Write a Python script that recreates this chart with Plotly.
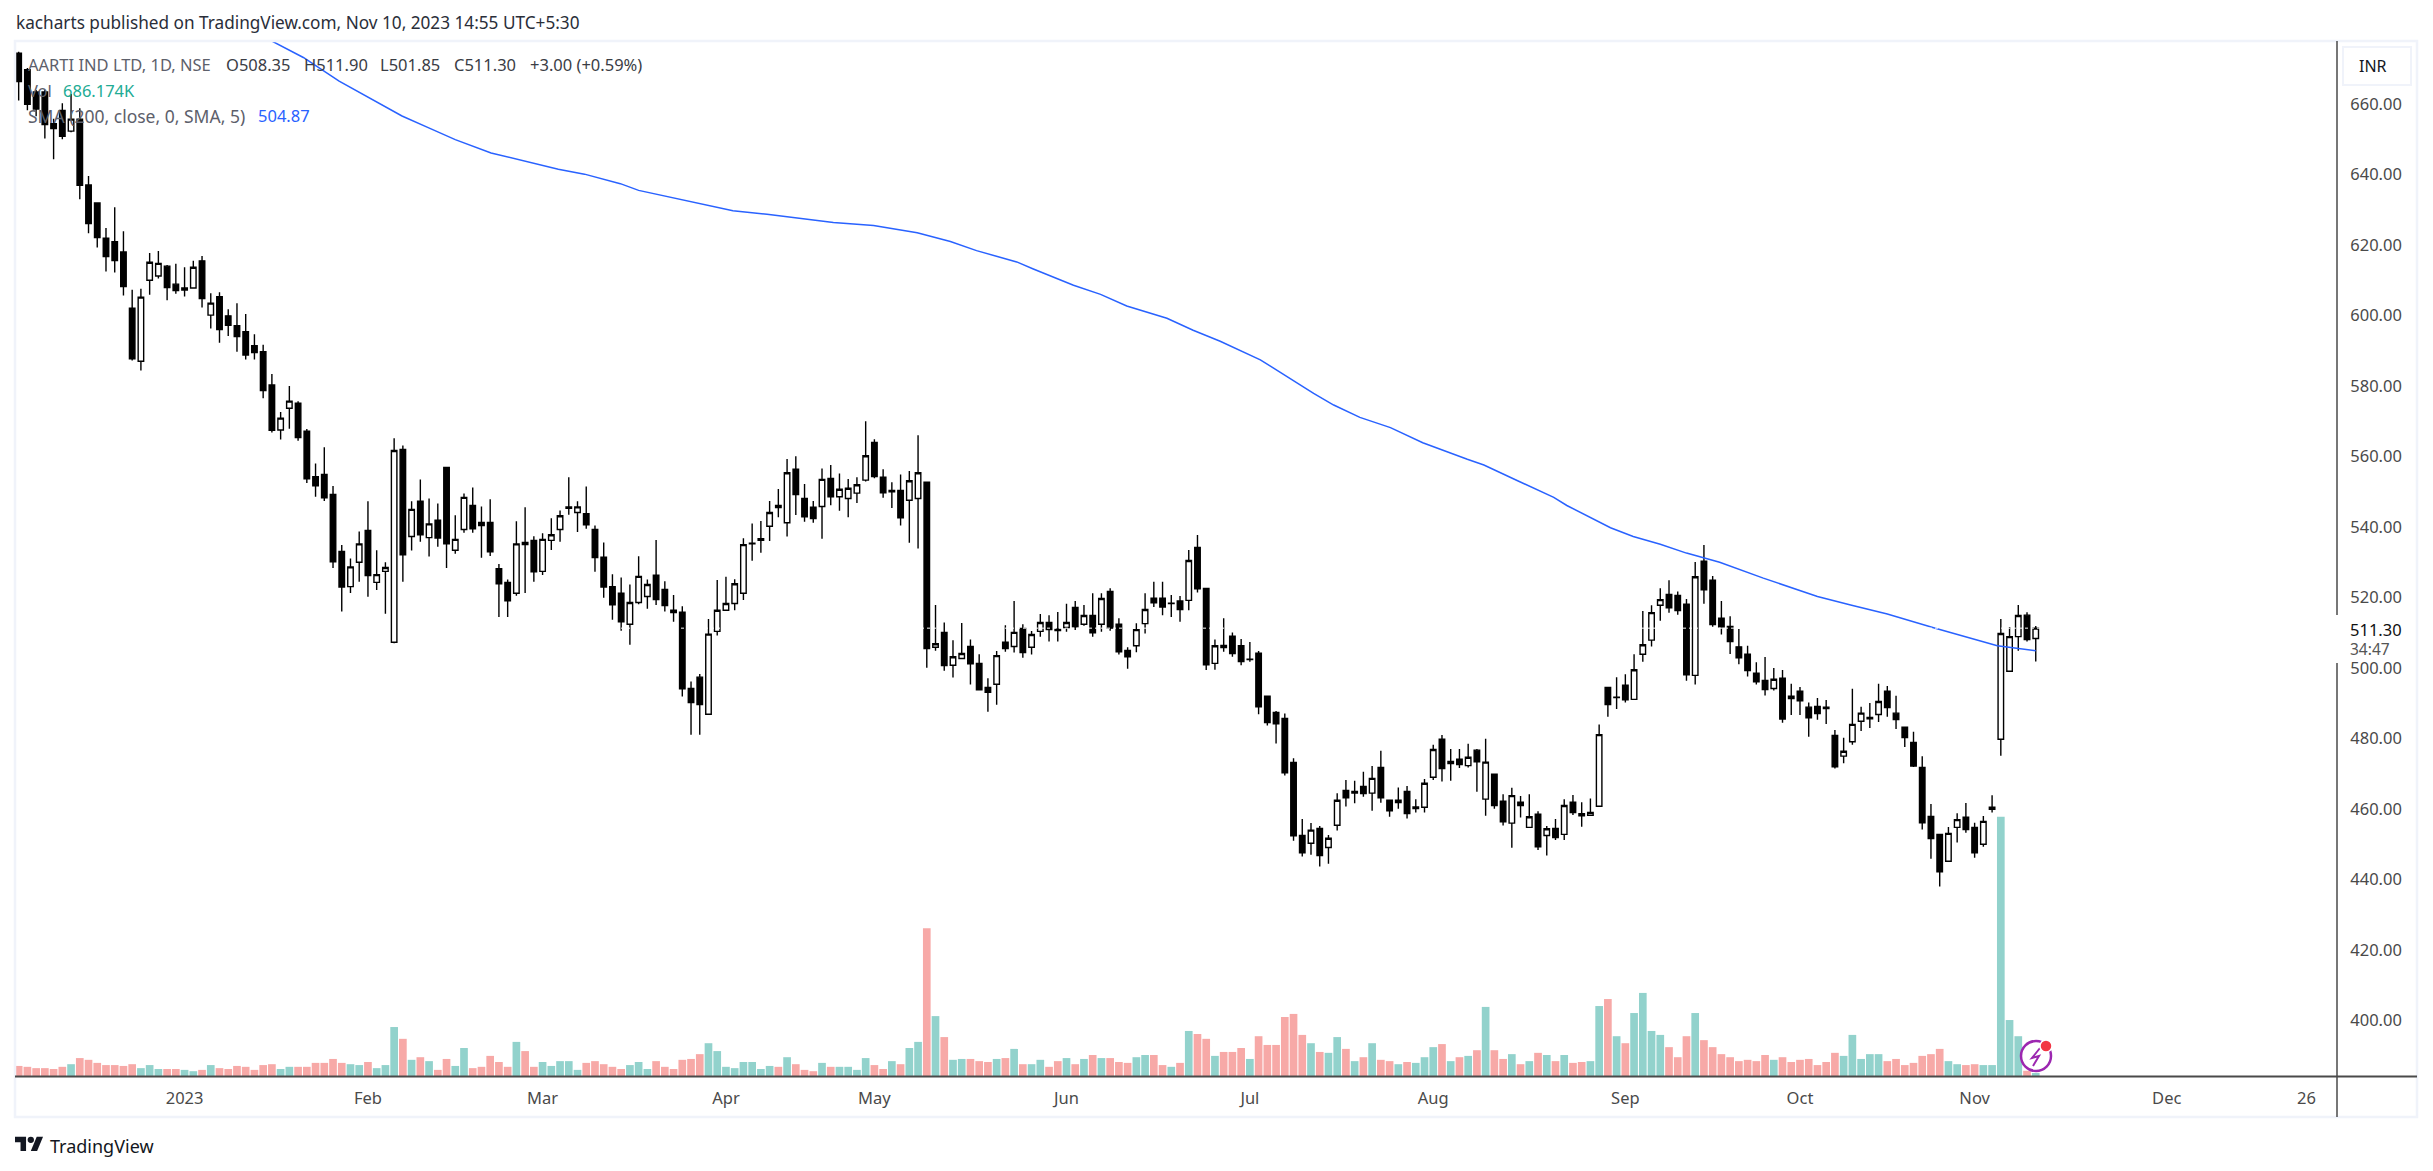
import plotly.graph_objects as go

open_prices = [
 674.4,669.7,663.4,663.4,654.4,658.2,652.3,655.7,637.0,631.9,
 621.9,620.9,618.0,602.1,587.0,610.0,611.2,614.0,608.9,607.2,
 607.8,615.5,600.1,605.3,599.9,597.1,595.4,591.4,589.7,580.3,
 567.5,573.7,575.1,567.2,554.3,554.9,549.2,533.1,523.1,530.0,
 539.0,524.3,527.4,507.3,562.0,537.3,547.3,537.0,541.9,556.9,
 533.4,539.3,546.1,541.3,541.3,528.2,524.3,521.2,535.6,536.2,
 527.4,536.2,539.3,545.3,544.1,543.8,539.3,531.4,523.1,521.2,
 512.4,518.6,520.3,526.3,522.3,516.4,515.8,494.2,497.4,486.9,
 510.4,516.4,518.3,521.2,535.2,536.2,540.2,546.1,541.2,556.4,
 548.1,545.6,545.8,553.8,548.6,548.1,549.6,553.3,564.0,554.1,
 550.0,550.4,547.6,548.1,552.7,505.9,510.1,500.8,502.7,506.1,
 501.3,494.5,495.4,507.3,506.1,511.2,505.9,510.4,512.9,511.0,
 511.5,517.2,512.4,514.9,512.4,521.7,512.4,505.0,506.3,512.6,
 519.8,519.8,518.3,519.0,519.2,534.2,522.6,501.3,506.4,509.0,
 506.3,502.4,504.2,492.0,487.4,485.7,473.2,452.5,450.3,454.5,
 449.1,455.4,465.3,464.5,466.4,464.5,471.8,462.5,461.8,465.0,
 460.1,460.5,469.0,479.8,472.9,474.1,472.3,476.7,462.8,469.9,
 462.2,456.0,461.9,454.8,458.5,452.5,454.5,452.8,461.9,458.7,
 458.2,460.8,494.5,491.6,495.1,491.1,503.9,507.9,517.8,520.9,
 520.6,518.1,497.9,530.3,524.9,514.1,511.8,506.0,503.9,498.5,
 496.5,494.2,497.1,492.0,493.4,488.9,489.1,488.9,480.9,475.0,
 479.1,484.9,485.6,486.8,493.4,487.2,483.2,478.9,471.8,457.9,
 452.8,445.2,454.8,457.7,454.8,450.0,459.9,479.8,499.1,508.9,515.0,508.35]

close_prices = [
 666.4,659.9,658.6,654.2,653.0,650.8,655.7,636.9,626.1,622.1,
 616.7,615.6,608.2,587.7,605.2,615.1,614.8,607.9,607.1,607.8,
 613.7,604.8,603.5,596.0,597.2,594.0,588.8,589.5,578.7,567.4,
 570.9,575.7,565.4,553.7,551.7,548.3,530.1,523.0,528.7,535.2,
 526.2,526.5,528.5,561.7,532.1,545.0,537.8,540.9,536.9,535.2,
 536.5,548.4,539.5,540.4,533.0,523.9,519.1,535.2,535.0,527.3,
 536.5,537.8,543.2,545.7,545.7,540.6,531.3,523.0,517.9,513.1,
 518.6,526.0,523.7,519.4,517.7,515.7,494.1,490.2,489.6,509.6,
 516.4,518.3,523.9,535.0,535.4,536.7,544.1,545.5,555.4,549.2,
 542.9,542.4,553.5,548.6,550.7,551.0,552.0,560.2,554.3,549.7,
 550.4,542.6,553.1,555.4,505.5,506.9,500.7,503.2,504.1,501.2,
 493.8,493.1,503.5,505.5,510.1,504.4,509.5,512.9,510.9,510.6,
 512.9,511.7,514.9,510.0,519.7,511.3,504.6,503.2,510.9,516.6,
 518.5,517.3,518.4,516.6,530.5,522.5,500.9,506.3,505.8,504.1,
 501.8,502.5,489.0,484.5,484.2,470.3,452.4,447.6,454.0,446.8,
 451.7,462.5,463.2,465.0,464.4,468.7,463.2,459.5,462.5,458.7,
 460.6,467.3,476.9,471.5,473.5,472.6,474.7,473.4,473.3,461.0,
 456.4,463.8,461.0,457.8,449.3,454.4,451.9,461.0,459.0,458.1,
 459.0,481.1,489.6,491.7,491.0,499.5,506.6,515.7,519.4,517.1,
 516.3,498.1,525.9,522.2,512.3,511.7,507.5,502.9,499.3,496.1,
 493.9,496.8,485.5,491.3,490.7,485.9,487.1,488.5,472.0,476.4,
 484.0,487.2,486.0,490.5,488.8,485.4,480.3,472.2,456.1,451.6,
 442.2,453.1,457.0,454.2,447.6,456.5,460.5,509.8,508.9,514.9,508.1,511.30]

high_prices = [
 674.8,670.2,664.0,664.0,655.8,660.2,662.8,658.8,639.6,632.0,
 624.8,630.7,623.9,607.3,607.6,617.7,618.3,614.3,614.7,613.7,
 615.5,616.9,606.3,606.6,601.8,603.5,600.4,594.7,591.7,583.4,
 572.6,580.0,575.7,567.8,558.0,562.6,551.6,534.9,531.1,538.7,
 547.3,533.4,530.0,565.2,563.1,547.3,553.5,548.1,546.7,557.0,
 543.3,549.5,551.2,545.8,547.9,529.5,525.1,541.6,545.6,537.4,
 538.2,542.5,544.7,554.1,547.3,551.5,540.4,535.6,526.6,525.7,
 523.7,531.7,525.1,536.3,524.6,520.7,517.5,496.2,498.3,513.9,
 525.0,525.9,525.2,536.8,541.0,541.7,547.4,550.8,559.3,560.1,
 552.2,547.4,556.6,557.6,555.2,553.6,554.1,570.0,564.9,556.4,
 552.7,554.9,555.9,566.0,552.7,517.9,512.9,507.9,512.8,508.1,
 503.9,497.1,504.8,512.1,519.0,512.4,510.5,515.3,515.0,515.9,
 518.2,519.0,517.9,521.2,521.2,522.6,514.1,505.9,512.7,521.2,
 524.5,524.5,520.7,520.4,533.5,537.7,522.7,508.1,514.1,510.1,
 508.2,507.4,504.8,492.0,487.8,487.1,474.4,457.2,456.0,455.2,
 452.6,464.5,468.2,468.0,470.6,472.2,476.5,462.6,466.1,466.5,
 462.8,468.5,478.2,481.0,477.0,477.0,478.5,477.0,479.9,469.9,
 464.2,466.0,463.7,464.2,459.4,455.2,457.2,462.8,464.0,461.9,
 463.0,484.0,494.6,497.4,498.2,503.9,516.2,517.8,522.6,524.9,
 521.7,519.6,530.1,534.9,526.1,519.0,514.7,511.1,506.3,501.6,
 503.1,500.0,499.4,495.5,494.6,490.2,491.5,490.9,482.4,480.2,
 494.1,489.0,490.1,495.5,494.9,492.1,483.3,481.9,475.0,461.4,
 452.8,454.9,458.8,461.7,456.1,458.0,463.9,513.9,511.6,517.9,515.8,511.90]

low_prices = [
 661.0,658.2,656.5,650.2,644.3,650.0,652.0,633.0,623.3,619.3,
 612.5,612.2,605.7,587.2,584.4,605.9,610.5,604.3,606.2,605.4,
 607.6,602.3,596.3,592.3,594.2,589.7,587.5,587.5,576.5,566.8,
 564.8,567.9,564.5,552.5,548.6,547.4,528.4,516.0,521.3,524.5,
 520.2,522.1,515.4,507.0,524.5,533.3,535.8,531.6,534.4,528.4,
 532.4,538.4,538.4,531.3,531.8,514.5,514.5,520.5,521.3,524.5,
 526.4,533.5,535.8,543.5,538.6,539.5,527.3,519.9,513.7,510.6,
 506.6,518.1,516.8,517.9,516.0,513.1,491.9,481.1,481.1,486.8,
 509.2,516.3,516.4,519.3,530.4,532.7,536.0,542.8,537.3,543.4,
 541.5,541.2,536.7,546.2,544.6,542.8,546.8,552.9,553.8,548.3,
 545.4,540.4,535.5,533.9,500.1,504.9,499.2,497.3,502.6,495.3,
 493.6,487.6,489.6,504.6,504.4,502.9,503.8,508.9,507.5,507.5,
 510.3,510.8,512.0,508.9,510.3,510.6,503.8,499.8,504.5,509.8,
 517.3,515.0,514.5,513.1,516.4,521.4,499.4,499.5,504.6,503.2,
 500.8,501.8,486.9,483.7,478.6,469.5,451.0,446.5,447.0,443.7,
 444.5,453.9,460.7,461.6,463.5,459.5,461.8,457.8,460.1,457.3,
 459.0,459.0,468.2,467.8,468.0,471.6,471.8,464.9,458.1,460.1,
 455.3,449.0,457.6,454.7,448.4,446.8,451.2,451.2,458.3,455.0,
 458.2,460.7,486.2,488.4,490.2,491.0,501.8,506.1,513.4,515.7,
 515.1,496.4,495.3,518.2,511.7,509.5,504.0,501.1,497.6,495.3,
 492.2,493.6,484.5,486.7,486.7,480.5,485.3,484.1,471.5,473.0,
 478.2,482.1,483.0,484.7,486.2,482.7,477.6,471.9,454.2,445.9,
 438.0,445.1,450.5,453.3,446.2,449.3,459.0,475.1,499.0,504.9,507.5,501.85]

volumes_m = [
 2.3,2.1,1.8,1.8,1.6,2.1,2.7,4.1,3.7,3.0,
 2.5,2.5,2.3,2.7,1.8,2.5,1.6,1.6,1.6,1.4,
 1.1,1.4,2.5,1.8,1.6,2.3,2.1,1.4,2.5,2.7,
 1.6,2.1,2.1,2.1,3.0,3.0,3.9,3.0,2.7,2.5,
 3.2,1.8,2.5,11.2,8.5,3.7,4.3,3.4,1.4,3.9,
 2.3,6.4,1.8,2.1,4.6,3.2,2.1,7.8,5.7,2.1,
 3.2,2.3,3.4,3.4,1.4,3.0,3.4,2.7,2.1,1.6,
 2.5,3.2,1.6,3.4,2.1,1.6,3.7,3.9,5.0,7.5,
 5.7,2.1,1.8,3.2,3.2,1.6,2.3,2.1,4.3,2.7,
 1.4,1.1,3.0,2.1,2.1,2.1,1.4,4.1,2.5,1.6,
 3.4,2.7,6.4,7.8,33.8,13.7,8.9,3.7,3.9,3.9,
 3.4,3.2,3.9,4.1,6.2,2.7,2.7,3.7,2.1,3.4,
 4.1,2.7,3.9,4.8,4.1,4.1,3.2,3.0,4.3,4.8,
 4.8,2.5,2.1,3.0,10.3,9.6,8.5,4.6,5.5,5.5,
 6.4,3.9,9.1,7.1,7.1,13.5,14.2,9.4,7.5,5.5,
 5.3,8.9,6.2,3.4,4.3,7.5,3.7,3.4,2.7,3.2,
 3.0,4.3,6.6,7.3,3.4,4.3,4.6,5.9,15.8,5.9,
 3.9,5.0,2.7,3.4,5.3,4.8,3.4,4.8,3.0,3.2,
 3.4,16.0,17.6,9.1,7.5,14.4,19.0,10.3,9.4,6.6,
 4.3,9.1,14.4,8.2,6.6,5.0,4.3,3.4,3.7,3.4,
 4.8,3.7,4.3,3.2,3.7,3.9,2.5,3.2,5.3,4.6,
 9.4,3.9,5.0,5.0,3.4,3.9,2.5,3.0,4.6,5.0,
 6.2,3.4,2.7,2.5,2.7,2.5,2.5,59.3,12.8,9.1,1.2,0.686]

sma_index = [28.8,32.6,36.7,40.3,43.9,46.9,50.0,54.1,58.2,61.8,64.8,68.9,71.0,74.5,78.0,81.8,85.7,89.5,93.3,97.9,102.9,106.7,109.7,114.3,116.2,120.8,123.9,126.9,131.5,134.5,137.6,
             142.2,144.1,148.3,150.6,153.6,157.1,160.8,165.9,167.8,171.6,175.8,177.3,182.3,184.9,188.0,191.0,194.8,199.8,206.0,209.8,214.0,219.5,222.5,226.6,231.0]
sma_values = [678.1,673.2,666.5,661.5,656.6,653.3,649.9,646.1,643.7,641.5,640.1,637.4,635.5,633.6,631.6,629.7,628.7,627.6,626.4,625.5,623.5,621.0,618.4,615.2,613.2,608.6,606.0,602.7,599.2,595.8,592.7,
              587.4,584.4,577.9,574.6,571.1,568.2,563.9,559.2,557.6,553.2,548.4,546.1,539.8,537.3,535.1,532.6,530.0,525.5,520.3,517.9,515.3,511.3,509.1,506.3,504.87]

tick_index = [19,40,60,81,98,120,141,162,184,204,224,246,262]
tick_labels = ["2023","Feb","Mar","Apr","May","Jun","Jul","Aug","Sep","Oct","Nov","Dec","26"]
price_ticks = [400,420,440,460,480,500,520,540,560,580,600,620,640,660]

W, H = 2433, 1171
L, R, T, B = 15, 2337, 41, 1076
FONT = "Noto Sans"
GREY = "#4a4a4a"

def xp(x):
    return (x - L) / (R - L)

def yp(y):
    return (B - y) / (B - T)

idx = list(range(len(open_prices)))
vol_colors = ["#92d2cc" if c >= o else "#f7a9a7" for o, c in zip(open_prices, close_prices)]

fig = go.Figure()
fig.add_trace(go.Bar(x=idx, y=volumes_m, marker=dict(color=vol_colors, line=dict(width=0)),
                     yaxis="y", hoverinfo="skip", showlegend=False))
fig.add_trace(go.Candlestick(x=idx, open=open_prices, high=high_prices, low=low_prices, close=close_prices,
                             yaxis="y2", hoverinfo="skip", showlegend=False,
                             increasing=dict(line=dict(color="#000000", width=1.4), fillcolor="#ffffff"),
                             decreasing=dict(line=dict(color="#000000", width=1.4), fillcolor="#000000")))
fig.add_trace(go.Scatter(x=sma_index, y=sma_values, mode="lines", yaxis="y2", hoverinfo="skip", showlegend=False,
                         line=dict(color="#2962ff", width=1.5)))

shapes = []

def line(x0, y0, x1, y1, color, width=1.5, dash="solid"):
    shapes.append(dict(type="line", xref="paper", yref="paper", x0=xp(x0), y0=yp(y0), x1=xp(x1), y1=yp(y1),
                       line=dict(color=color, width=width, dash=dash)))

def rect(x0, y0, x1, y1, fill, color="rgba(0,0,0,0)", width=0):
    shapes.append(dict(type="rect", xref="paper", yref="paper", x0=xp(x0), y0=yp(y0), x1=xp(x1), y1=yp(y1),
                       fillcolor=fill, line=dict(color=color, width=width)))

# last-price dotted line, panel frame, axes
shapes.append(dict(type="line", xref="paper", yref="y2", x0=0, x1=1, y0=close_prices[-1], y1=close_prices[-1],
                   line=dict(color="#ffffff", width=1, dash="dot")))
rect(15, 41, 2417, 1117, "rgba(0,0,0,0)", "#f0f3fa", 2.5)
line(2337, 41, 2337, 1117, GREY, 1.5)
line(15, 1076.5, 2417, 1076.5, GREY, 2)
rect(2330, 615, 2344, 663, "#ffffff")

# currency box
shapes.append(dict(type="rect", xref="paper", yref="paper", x0=xp(2343), y0=yp(47), x1=xp(2411), y1=yp(85),
                   fillcolor="#ffffff", line=dict(color="#f0f3fa", width=2)))

# TradingView logo
def logo_path(points):
    s = 0.79
    ox, oy = 15, 1133.5
    return "M" + " L".join(f"{xp(ox + px * s):.6f},{yp(oy + py * s):.6f}" for px, py in points) + " Z"

shapes.append(dict(type="path", xref="paper", yref="paper", fillcolor="#131722", line=dict(width=0),
                   path=logo_path([(0,4),(14,4),(14,22),(7,22),(7,11),(0,11)])))
shapes.append(dict(type="path", xref="paper", yref="paper", fillcolor="#131722", line=dict(width=0),
                   path=logo_path([(27.5,4),(35.5,4),(28,22),(20,22)])))
shapes.append(dict(type="circle", xref="paper", yref="paper", fillcolor="#131722", line=dict(width=0),
                   x0=xp(15 + 16 * .79), x1=xp(15 + 24 * .79), y0=yp(1133.5 + 4 * .79), y1=yp(1133.5 + 12 * .79)))

# flash icon
shapes.append(dict(type="circle", xref="paper", yref="paper", fillcolor="#ffffff", line=dict(color="#9c27b0", width=2.5),
                   x0=xp(2021), x1=xp(2051), y0=yp(1041), y1=yp(1071)))
shapes.append(dict(type="path", xref="paper", yref="paper", line=dict(color="#9c27b0", width=2),
                   path=f"M{xp(2040)},{yp(1048)} L{xp(2032)},{yp(1058)} L{xp(2039)},{yp(1056)} L{xp(2033)},{yp(1066)}"))
shapes.append(dict(type="circle", xref="paper", yref="paper", fillcolor="#f23645", line=dict(color="#ffffff", width=1.5),
                   x0=xp(2040), x1=xp(2052), y0=yp(1040), y1=yp(1052)))

annotations = []

def text(x, y, s, color=GREY, size=16.5, family=FONT):
    annotations.append(dict(xref="paper", yref="paper", x=xp(x), y=yp(y), text=s, showarrow=False,
                            xanchor="left", yanchor="middle", align="left", borderpad=0,
                            font=dict(family=family, size=size, color=color)))

text(15, 22, "kacharts published on TradingView.com, Nov 10, 2023 14:55 UTC+5:30", "#2a2e39", 17.2)
text(27, 64, "AARTI IND LTD, 1D, NSE", "#5d606b")
for lx, s in [(225, "O508.35"), (303, "H511.90"), (379, "L501.85"), (453, "C511.30"), (529, "+3.00 (+0.59%)")]:
    text(lx, 64, s, "#3a3d45")
text(27, 90, "Vol", "#5d606b")
text(62, 90, "686.174K", "#22ab94")
text(27, 116, "SMA (200, close, 0, SMA, 5)", "#5d606b", 17.5)
text(257, 116, "504.87", "#2962ff")
text(2358, 66, "INR", "#131722", 16)
text(2349, 629, f"{close_prices[-1]:.2f}", "#111111", 16.5)
text(2349, 649, "34:47", "#555555", 15.5)
text(49, 1146, "TradingView", "#131722", 18)

fig.update_layout(
    width=W, height=H, paper_bgcolor="#ffffff", plot_bgcolor="#ffffff",
    margin=dict(l=L, r=W - R, t=T, b=H - B, pad=0, autoexpand=False),
    showlegend=False, bargap=0.12, boxgap=0.37, boxgroupgap=0, hovermode=False,
    shapes=shapes, annotations=annotations,
    xaxis=dict(range=[-0.42, 265.5], tickmode="array", tickvals=tick_index, ticktext=tick_labels,
               showgrid=False, zeroline=False, showline=False, rangeslider=dict(visible=False),
               ticks="outside", ticklen=7, tickcolor="rgba(0,0,0,0)", fixedrange=True,
               tickfont=dict(family=FONT, size=16.5, color=GREY)),
    yaxis=dict(range=[0, 236.7], visible=False, fixedrange=True),
    yaxis2=dict(range=[384.26, 677.87], overlaying="y", side="right", anchor="x", tickmode="array",
                tickvals=price_ticks, ticktext=[f"{p:.2f}" for p in price_ticks], showgrid=False, zeroline=False,
                showline=False, ticks="outside", ticklen=9, tickcolor="rgba(0,0,0,0)", fixedrange=True,
                tickfont=dict(family=FONT, size=16.5, color=GREY)),
)

fig.write_html("out.html", config=dict(displayModeBar=False, responsive=False),
               post_script="document.body.style.margin='0';document.body.style.overflow='hidden';")
